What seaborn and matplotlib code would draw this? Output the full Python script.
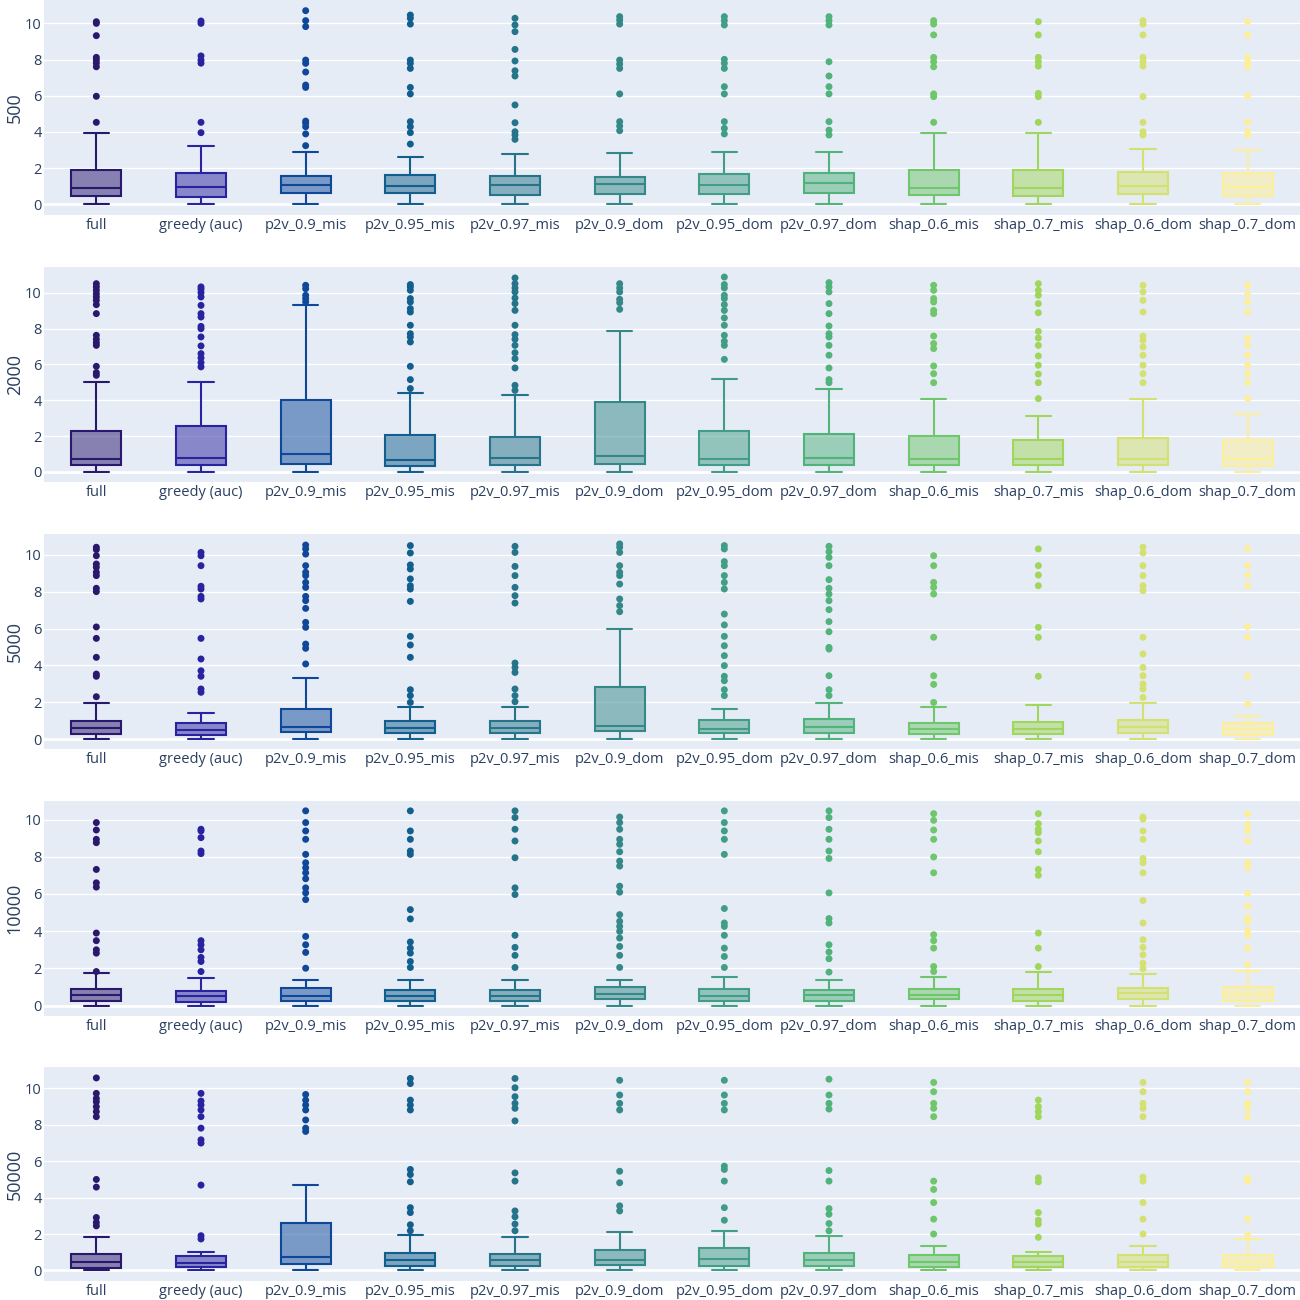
import numpy as np
import pandas as pd
import seaborn as sns
import matplotlib.pyplot as plt
from matplotlib.colors import to_rgba

# categories on the x axis of every panel
methods = ["full", "greedy (auc)", "p2v_0.9_mis", "p2v_0.95_mis", "p2v_0.97_mis",
           "p2v_0.9_dom", "p2v_0.95_dom", "p2v_0.97_dom", "shap_0.6_mis",
           "shap_0.7_mis", "shap_0.6_dom", "shap_0.7_dom"]
sizes = ["500", "2000", "5000", "10000", "50000"]

# plotly "haline" palette, one colour per method
colors = ["#29186b", "#2a23a0", "#0f4799", "#125f8e", "#267489", "#358888",
          "#419d85", "#51b27c", "#6fc66b", "#a0d65b", "#d4e170", "#fdee99"]

# lower whisker reaches 0 for every box
low = 0.0

# ---- 500 ----
q1_500 = [0.46, 0.42, 0.61, 0.64, 0.53, 0.55, 0.57, 0.61, 0.52, 0.46, 0.55, 0.46]
med_500 = [0.92, 0.98, 1.05, 1.01, 1.05, 1.10, 1.05, 1.16, 0.92, 0.88, 1.03, 0.94]
q3_500 = [1.90, 1.73, 1.58, 1.62, 1.58, 1.53, 1.68, 1.71, 1.92, 1.92, 1.80, 1.75]
hi_500 = [3.96, 3.24, 2.91, 2.63, 2.78, 2.85, 2.87, 2.91, 3.96, 3.96, 3.08, 3.00]
out_500 = [
    [4.53, 5.97, 7.6, 7.8, 7.97, 8.12, 9.32, 10.0, 10.09],
    [3.96, 4.53, 7.8, 7.97, 8.2, 10.0, 10.13],
    [3.24, 3.89, 4.29, 4.48, 4.6, 6.46, 6.59, 7.31, 7.79, 7.97, 9.82, 10.15, 10.7],
    [3.33, 3.96, 4.29, 4.57, 6.1, 6.46, 7.51, 7.79, 7.97, 9.96, 10.28, 10.46],
    [3.59, 3.83, 4.01, 4.51, 5.49, 7.09, 7.38, 7.92, 8.56, 9.54, 9.91, 10.28],
    [4.07, 4.33, 4.57, 6.1, 7.51, 7.75, 7.97, 9.96, 10.18, 10.37],
    [3.89, 4.2, 4.57, 6.1, 6.5, 7.51, 7.79, 8.01, 9.91, 10.15, 10.37],
    [3.83, 4.1, 4.57, 6.1, 6.5, 7.09, 7.88, 9.91, 10.15, 10.37],
    [4.53, 5.95, 6.1, 7.6, 7.88, 8.12, 9.36, 9.96, 10.15],
    [4.53, 5.95, 6.13, 7.64, 7.88, 8.12, 9.36, 10.09],
    [3.83, 4.01, 4.53, 5.95, 7.64, 7.88, 8.12, 9.36, 9.96, 10.15],
    [3.83, 4.01, 4.53, 5.99, 7.6, 7.88, 8.12, 9.36, 10.09],
]

# ---- 2000 ----
q1_2000 = [0.37, 0.37, 0.46, 0.33, 0.37, 0.46, 0.37, 0.37, 0.37, 0.37, 0.37, 0.33]
med_2000 = [0.74, 0.78, 0.99, 0.65, 0.80, 0.87, 0.74, 0.78, 0.74, 0.74, 0.71, 0.74]
q3_2000 = [2.29, 2.55, 4.03, 2.04, 1.95, 3.90, 2.30, 2.12, 2.01, 1.80, 1.91, 1.80]
hi_2000 = [5.00, 5.00, 9.29, 4.41, 4.28, 7.84, 5.17, 4.65, 4.09, 3.12, 4.09, 3.23]
out_2000 = [
    [5.39, 5.54, 5.89, 7.06, 7.21, 7.4, 7.62, 8.83, 9.33, 9.57, 9.76, 9.94, 10.13, 10.32, 10.5],
    [5.86, 6.1, 6.36, 6.6, 7.03, 7.53, 7.99, 8.12, 8.64, 8.83, 9.29, 9.76, 10.0, 10.19, 10.32],
    [9.48, 9.67, 9.85, 10.22, 10.41],
    [4.65, 5.15, 5.89, 7.25, 7.53, 7.71, 8.18, 8.92, 9.11, 9.48, 9.67, 10.13, 10.32, 10.45],
    [4.55, 4.83, 5.8, 6.32, 6.65, 7.06, 7.4, 7.66, 8.18, 9.01, 9.39, 9.7, 10.04, 10.26, 10.5, 10.82],
    [9.07, 9.44, 9.63, 10.04, 10.26, 10.5],
    [6.28, 7.06, 7.29, 7.62, 8.18, 8.59, 9.01, 9.33, 9.67, 9.85, 10.26, 10.45, 10.87],
    [4.98, 5.15, 5.8, 6.51, 7.06, 7.53, 7.71, 8.14, 8.83, 9.39, 10.04, 10.32, 10.56],
    [4.98, 5.48, 5.91, 6.88, 7.16, 7.58, 8.83, 9.01, 9.48, 9.67, 10.13, 10.41],
    [4.09, 4.98, 5.46, 5.95, 6.47, 7.06, 7.47, 7.84, 8.88, 9.39, 9.85, 10.13, 10.5],
    [4.98, 5.48, 5.95, 6.51, 6.97, 7.34, 7.58, 8.92, 9.57, 10.04, 10.41],
    [4.09, 4.98, 5.48, 5.95, 6.51, 7.06, 7.47, 8.92, 9.48, 9.94, 10.41],
]

# ---- 5000 ----
q1_5000 = [0.25, 0.24, 0.36, 0.33, 0.31, 0.42, 0.31, 0.31, 0.27, 0.27, 0.31, 0.24]
med_5000 = [0.58, 0.51, 0.67, 0.58, 0.58, 0.72, 0.54, 0.67, 0.54, 0.54, 0.63, 0.54]
q3_5000 = [0.96, 0.87, 1.63, 1.00, 0.98, 2.81, 1.05, 1.09, 0.87, 0.94, 1.03, 0.87]
hi_5000 = [1.96, 1.43, 3.33, 1.74, 1.74, 5.98, 1.61, 1.96, 1.74, 1.85, 1.96, 1.27]
out_5000 = [
    [2.30, 3.41, 3.53, 4.44, 5.47, 6.09, 8.01, 8.19, 8.88, 9.06, 9.33, 9.51, 9.96, 10.29, 10.42],
    [2.54, 2.72, 3.41, 3.71, 4.35, 5.47, 7.61, 7.75, 8.15, 8.30, 9.42, 9.96, 10.14],
    [4.08, 4.93, 5.16, 6.07, 6.34, 7.10, 7.52, 7.75, 8.24, 8.51, 8.88, 9.06, 9.42, 10.05, 10.33, 10.54],
    [1.99, 2.36, 2.68, 4.44, 5.11, 5.58, 7.48, 8.15, 8.33, 8.70, 9.24, 9.46, 10.11, 10.51],
    [2.03, 2.36, 2.72, 3.62, 3.89, 4.13, 7.39, 7.79, 8.24, 8.88, 9.38, 10.14, 10.47],
    [6.92, 7.25, 7.61, 8.42, 8.88, 9.06, 9.42, 10.14, 10.42, 10.6],
    [2.36, 2.68, 3.17, 3.41, 3.99, 4.53, 5.07, 5.58, 6.20, 6.79, 8.15, 8.51, 8.88, 9.42, 9.64, 10.33, 10.51],
    [2.36, 2.68, 3.44, 4.89, 4.98, 5.83, 6.38, 7.03, 7.52, 7.88, 8.19, 8.66, 9.42, 9.87, 10.18, 10.47],
    [1.99, 2.97, 3.44, 5.53, 7.88, 8.24, 8.51, 9.42, 9.96],
    [3.41, 5.53, 6.07, 8.33, 8.91, 9.42, 10.33],
    [2.26, 2.72, 2.99, 3.44, 3.89, 4.62, 5.53, 8.06, 8.33, 8.88, 9.42, 10.11, 10.42],
    [1.90, 3.41, 5.53, 6.11, 8.33, 8.91, 9.42, 10.36],
]

# ---- 10000 ----
q1_10000 = [0.27, 0.18, 0.27, 0.27, 0.27, 0.34, 0.27, 0.27, 0.34, 0.27, 0.34, 0.25]
med_10000 = [0.58, 0.49, 0.49, 0.49, 0.49, 0.61, 0.49, 0.58, 0.58, 0.58, 0.67, 0.61]
q3_10000 = [0.88, 0.79, 0.94, 0.85, 0.85, 0.99, 0.90, 0.83, 0.90, 0.88, 0.94, 0.99]
hi_10000 = [1.73, 1.47, 1.35, 1.35, 1.35, 1.35, 1.53, 1.38, 1.53, 1.80, 1.71, 1.87]
out_10000 = [
    [1.83, 2.82, 3.0, 3.49, 3.90, 6.37, 6.60, 7.32, 8.76, 8.94, 9.44, 9.84],
    [1.83, 2.37, 2.59, 3.0, 3.27, 3.49, 8.17, 8.31, 9.03, 9.39, 9.48],
    [2.01, 2.86, 3.27, 3.72, 5.70, 6.06, 6.33, 6.82, 7.14, 7.41, 7.68, 8.13, 8.94, 9.39, 9.84, 10.47],
    [2.05, 2.37, 2.82, 3.09, 3.42, 4.66, 5.16, 8.13, 8.31, 8.94, 9.39, 10.47],
    [2.05, 2.70, 3.13, 3.78, 5.97, 6.33, 7.95, 8.85, 9.48, 10.11, 10.47],
    [2.05, 2.70, 3.18, 3.63, 3.99, 4.26, 4.53, 4.89, 6.10, 6.42, 7.50, 7.77, 8.27, 8.67, 8.94, 9.48, 9.84, 10.14],
    [2.05, 2.64, 3.09, 3.78, 4.26, 4.44, 5.22, 8.13, 8.94, 9.39, 9.84, 10.47],
    [1.80, 2.52, 2.88, 3.27, 4.44, 4.68, 6.06, 7.91, 8.31, 8.94, 9.48, 10.11, 10.47],
    [1.83, 2.10, 3.09, 3.49, 3.81, 7.14, 7.99, 8.94, 9.44, 9.96, 10.32],
    [2.10, 3.09, 3.90, 7.01, 7.32, 8.27, 8.85, 9.30, 9.48, 9.78, 10.32],
    [1.98, 2.28, 2.73, 3.13, 3.54, 4.44, 5.65, 7.14, 7.68, 7.91, 8.94, 9.39, 10.02, 10.14],
    [2.19, 3.09, 3.78, 4.03, 4.50, 4.71, 5.34, 6.03, 7.41, 7.68, 8.85, 9.39, 9.75, 10.32],
]

# ---- 50000 ----
q1_50000 = [0.15, 0.18, 0.33, 0.27, 0.27, 0.31, 0.27, 0.24, 0.18, 0.18, 0.18, 0.18]
med_50000 = [0.49, 0.42, 0.73, 0.60, 0.55, 0.60, 0.65, 0.60, 0.45, 0.45, 0.49, 0.49]
q3_50000 = [0.91, 0.78, 2.58, 0.95, 0.91, 1.15, 1.22, 0.95, 0.85, 0.78, 0.85, 0.85]
hi_50000 = [1.85, 1.00, 4.67, 1.96, 1.85, 2.13, 2.15, 1.87, 1.33, 1.00, 1.33, 1.73]
out_50000 = [
    [2.45, 2.64, 2.91, 4.58, 5.0, 8.45, 8.73, 9.0, 9.27, 9.45, 9.73, 10.58],
    [1.73, 1.91, 4.69, 7.0, 7.18, 7.82, 8.45, 8.82, 9.09, 9.31, 9.73],
    [7.64, 7.82, 8.27, 8.82, 9.09, 9.36, 9.67],
    [2.18, 2.51, 3.18, 3.45, 4.87, 5.27, 5.55, 8.82, 9.09, 9.36, 10.27, 10.55],
    [2.18, 2.55, 2.95, 3.27, 4.91, 5.36, 8.22, 8.91, 9.18, 9.55, 10.04, 10.55],
    [3.27, 3.55, 4.82, 5.45, 8.82, 9.18, 9.64, 10.45],
    [2.76, 3.45, 4.91, 5.55, 5.73, 8.82, 9.18, 9.64, 10.45],
    [2.18, 2.58, 3.09, 3.40, 4.91, 5.49, 8.87, 9.18, 9.64, 10.51],
    [2.0, 2.82, 3.73, 4.45, 4.91, 8.45, 8.91, 9.18, 9.82, 10.33],
    [1.82, 2.55, 2.76, 3.18, 4.87, 5.09, 8.45, 8.73, 9.0, 9.36],
    [2.0, 2.82, 3.73, 4.91, 5.13, 8.45, 8.91, 9.18, 9.82, 10.33],
    [1.96, 2.82, 4.91, 5.09, 8.45, 8.91, 9.18, 9.82, 10.33],
]

q1_all = [q1_500, q1_2000, q1_5000, q1_10000, q1_50000]
med_all = [med_500, med_2000, med_5000, med_10000, med_50000]
q3_all = [q3_500, q3_2000, q3_5000, q3_10000, q3_50000]
hi_all = [hi_500, hi_2000, hi_5000, hi_10000, hi_50000]
out_all = [out_500, out_2000, out_5000, out_10000, out_50000]

# five values per box -> quartiles land exactly on them, whis=(0,100) gives the whiskers
box_rows, out_rows = [], []
for size, q1s, meds, q3s, his, outs in zip(sizes, q1_all, med_all, q3_all, hi_all, out_all):
    for m, a, b, c, d, o in zip(methods, q1s, meds, q3s, his, outs):
        for v in (low, a, b, c, d):
            box_rows.append((size, m, v))
        for v in o:
            out_rows.append((size, m, v))
boxes = pd.DataFrame(box_rows, columns=["size", "method", "value"])
outliers = pd.DataFrame(out_rows, columns=["size", "method", "value"])

txt = "#2a3f5f"
sns.set_theme(style="darkgrid", rc={"axes.facecolor": "#E5ECF6", "grid.color": "white",
                                    "grid.linewidth": 1.0, "figure.facecolor": "white"})
plt.rcParams["font.family"] = ["Open Sans", "DejaVu Sans"]

fig = plt.figure(figsize=(13, 13), dpi=100)

# panel positions in pixels (top, bottom) of the 1300px figure
rows_px = [(0, 215), (267, 482), (534, 749), (801, 1016), (1067, 1281)]
ylims = [(-0.59, 11.29), (-0.56, 11.43), (-0.54, 11.14), (-0.56, 11.0), (-0.58, 11.18)]
left, right = 44 / 1300, 1.0

for i, size in enumerate(sizes):
    top, bot = rows_px[i]
    ax = fig.add_axes([left, 1 - bot / 1300, right - left, (bot - top) / 1300])
    bd = boxes[boxes["size"] == size]
    od = outliers[outliers["size"] == size]

    sns.boxplot(data=bd, x="method", y="value", hue="method", order=methods,
                hue_order=methods, palette=colors, whis=(0, 100), width=0.48,
                linewidth=1.5, legend=False, ax=ax)
    sns.stripplot(data=od, x="method", y="value", hue="method", order=methods,
                  hue_order=methods, palette=colors, jitter=False, size=5,
                  linewidth=0, legend=False, ax=ax, zorder=3)

    # plotly look: line in the trace colour, fill with half opacity
    for cont in ax.containers:
        if not hasattr(cont, "boxes"):
            continue
        xpos = np.mean(cont.medians[0].get_xdata())
        col = colors[int(round(xpos))]
        for b in cont.boxes:
            b.set_facecolor(to_rgba(col, 0.5))
            b.set_edgecolor(col)
            b.set_linewidth(1.5)
        for ln in list(cont.whiskers) + list(cont.caps) + list(cont.medians):
            ln.set_color(col)
            ln.set_linewidth(1.5)

    ax.axhline(0, color="white", lw=2, zorder=0.5)
    ax.set_ylim(*ylims[i])
    ax.set_xlim(-0.5, 11.5)
    ax.set_yticks([0, 2, 4, 6, 8, 10])
    ax.grid(axis="x", visible=False)
    ax.set_xlabel("")
    ax.set_ylabel(size, fontsize=13, color=txt, labelpad=1)
    ax.tick_params(axis="both", length=0, labelsize=10.5, colors=txt)
    ax.tick_params(axis="x", pad=2.5)
    ax.tick_params(axis="y", pad=1.5)
    for s in ax.spines.values():
        s.set_visible(False)

fig.savefig("out.png", dpi=100)
